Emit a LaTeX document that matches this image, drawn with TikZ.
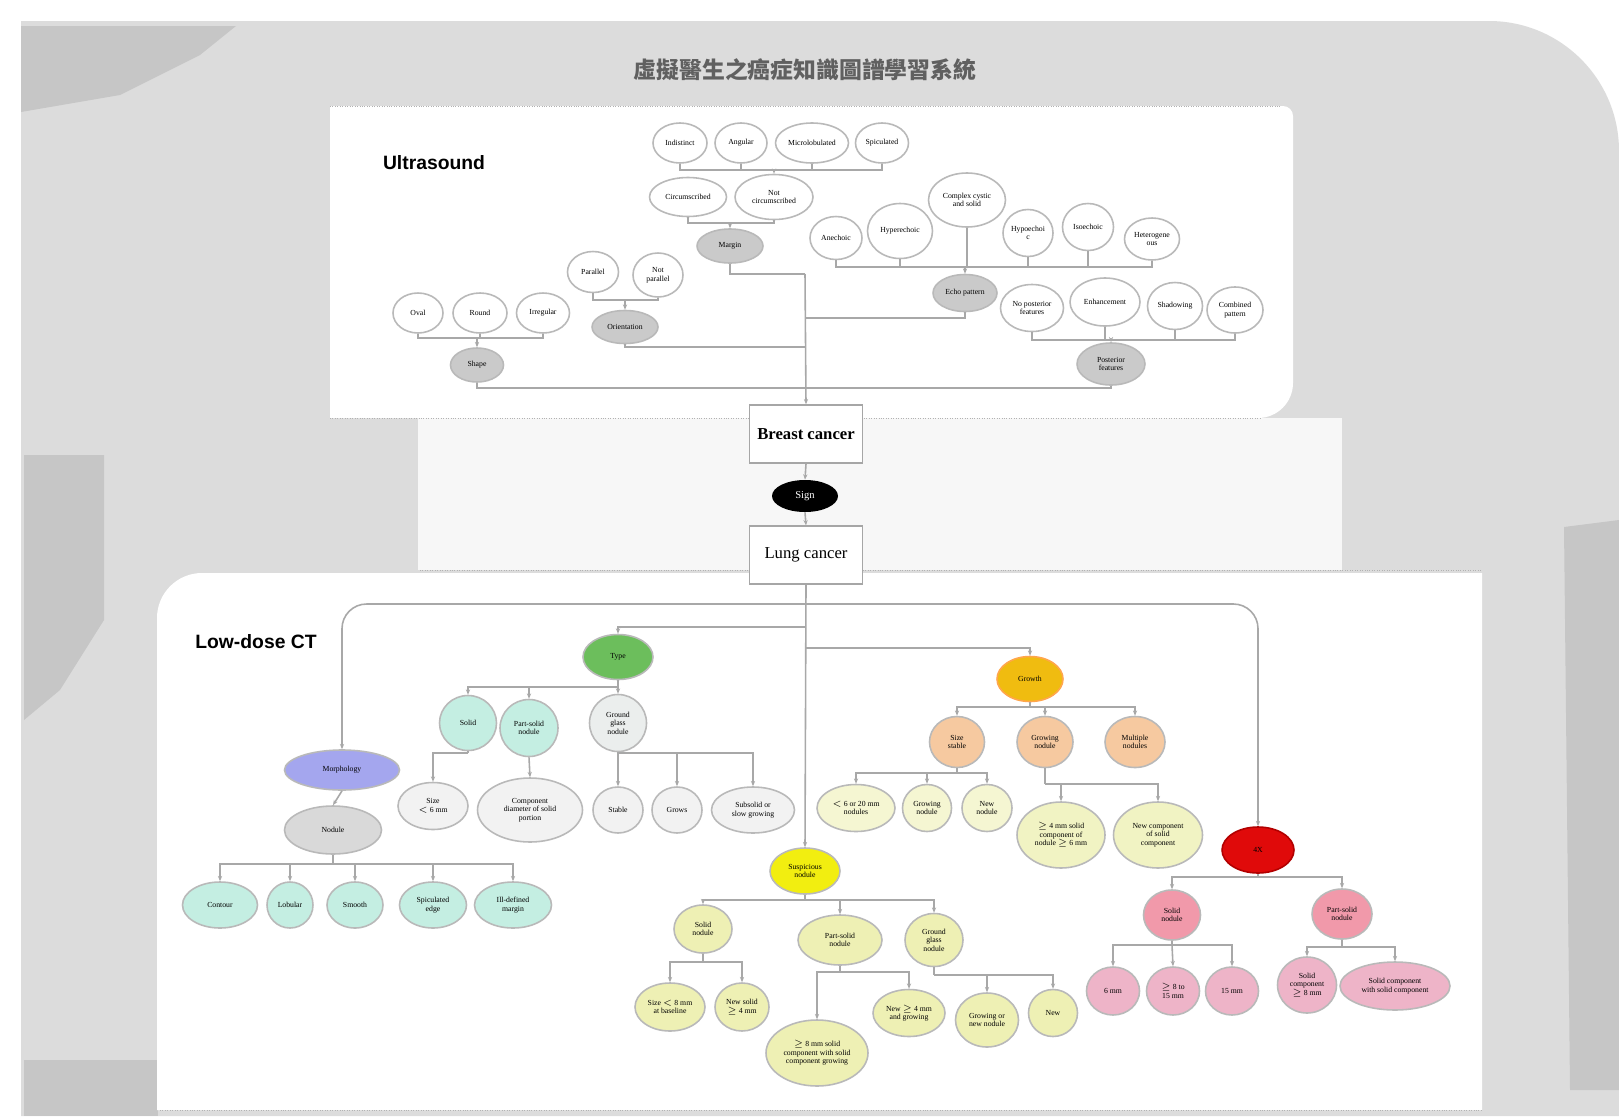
\documentclass[tikz,border=0pt]{standalone}
\usepackage{fontspec}
\setmainfont{Liberation Serif}
\newfontfamily\cjk{Noto Sans CJK TC}
\newfontfamily\hd{Liberation Sans}
\usetikzlibrary{shapes.geometric,arrows.meta}
\definecolor{bgGray}{HTML}{DCDCDC}
\definecolor{bgDark}{HTML}{C6C6C6}
\definecolor{hubGray}{HTML}{CACACA}
\definecolor{linkGray}{HTML}{A8A8A8}
\definecolor{mint}{HTML}{C4EEE2}
\definecolor{violet}{HTML}{A4A6EE}
\definecolor{leaf}{HTML}{6CBE5C}
\definecolor{gold}{HTML}{F0BC10}
\definecolor{peach}{HTML}{F6C9A0}
\definecolor{lemon}{HTML}{F2EE10}
\definecolor{cream}{HTML}{EEF0B4}
\definecolor{scarlet}{HTML}{E00A0A}
\definecolor{rose}{HTML}{EEB4C8}
\begin{document}
\begin{tikzpicture}[x=0.02cm,y=-0.02cm]
	\tikzset{bub/.style = {ellipse, draw=gray!55, line width=0.9pt, fill=white, inner sep=0pt, align=center, font=\fontsize{4.4}{4.9}\selectfont},
		hub/.style = {bub, fill=hubGray},
		wh/.style 2 args = {minimum width=#1*0.02cm, minimum height=#2*0.02cm},
		link/.style = {draw=linkGray, line width=0.9pt},
		arr/.style = {link, -{Stealth[length=3pt, width=2.4pt]}},
		box/.style = {draw=gray!70, line width=0.8pt, fill=white, wh={113}{58}, font=\fontsize{9.5}{10}\selectfont},
		panel/.style = {fill=white, draw=none}}

	\useasboundingbox (0,0) rectangle (1619,1116);

	% background
	\fill[white] (0,0) rectangle (1619,1116);
	\fill[bgGray] (21,21) [rounded corners=2.6cm] -- (1619,21) [sharp corners] -- (1619,1116) -- (21,1116) -- cycle;
	\fill[bgDark] (21,26) -- (236,26) -- (200,55) -- (120,95) -- (21,112) -- cycle;
	\fill[bgDark] (24,455) -- (104,455) -- (104,620) -- (60,690) -- (24,720) -- cycle;
	\fill[bgDark] (24,1060) rectangle (158,1116);
	\fill[bgDark] (1564,527) -- (1619,520) -- (1619,1090) -- (1570,1090) -- cycle;
	\fill[white!94!gray] (418,418) rectangle (1342,570);

	% panels
	\fill[panel] (330,106) [rounded corners=0.2cm] -- (1293,106) [rounded corners=0.7cm] -- (1293,418) [sharp corners] -- (330,418) -- cycle;
	\fill[panel] (157,1110) [rounded corners=0.9cm] -- (157,573) [sharp corners] -- (1482,573) -- (1482,1110) -- cycle;
	\draw[gray!60, densely dotted] (330,106) -- (1280,106);
	\draw[gray!60, densely dotted] (330,418) -- (1260,418);
	\draw[gray!60, densely dotted] (420,570) -- (1482,570);
	\draw[gray!60, densely dotted] (160,1110) -- (1482,1110);

	\node[font=\cjk\bfseries\fontsize{13}{13}\selectfont, text=gray!75!black] (title) at (805,70) {虛擬醫生之癌症知識圖譜學習系統};
	\node[font=\hd\bfseries\fontsize{11}{11}\selectfont] (us) at (434,163) {Ultrasound};
	\node[font=\hd\bfseries\fontsize{11}{11}\selectfont] (ct) at (256,642) {Low-dose CT};

	% ultrasound
	\node[bub, wh={54}{40}] (ind) at (680,143) {Indistinct};
	\node[bub, wh={52}{40}] (ang) at (741,143) {Angular};
	\node[bub, wh={73}{40}] (mic) at (812,143) {Microlobulated};
	\node[bub, wh={53}{40}] (spi) at (882,143) {Spiculated};
	\node[bub, wh={77}{39}] (cir) at (688,197) {Circumscribed};
	\node[bub, wh={78}{45}] (ncir) at (774,197) {Not\\circumscribed};
	\node[hub, wh={66}{34}] (mg) at (730,246) {Margin};

	\node[bub, wh={52}{43}] (ane) at (836,238) {Anechoic};
	\node[bub, wh={65}{55}] (hyper) at (900,231) {Hyperechoic};
	\node[bub, wh={77}{54}] (cplx) at (967,200) {Complex cystic\\and solid};
	\node[bub, wh={50}{47}] (hypo) at (1028,233) {Hypoechoi\\c};
	\node[bub, wh={51}{47}] (iso) at (1088,227) {Isoechoic};
	\node[bub, wh={55}{42}] (het) at (1152,239) {Heterogene\\ous};
	\node[hub, wh={64}{37}] (echo) at (965,293) {Echo pattern};

	\node[bub, wh={63}{47}] (nop) at (1032,308) {No posterior\\features};
	\node[bub, wh={70}{48}] (enh) at (1105,302) {Enhancement};
	\node[bub, wh={55}{47}] (sha) at (1175,306) {Shadowing};
	\node[bub, wh={56}{46}] (com) at (1235,310) {Combined\\pattern};
	\node[hub, wh={68}{42}] (post) at (1111,364) {Posterior\\features};

	\node[bub, wh={50}{40}] (oval) at (418,313) {Oval};
	\node[bub, wh={54}{40}] (round) at (480,313) {Round};
	\node[bub, wh={53}{40}] (irr) at (543,313) {Irregular};
	\node[hub, wh={53}{34}] (shape) at (477,365) {Shape};

	\node[bub, wh={51}{41}] (par) at (593,272) {Parallel};
	\node[bub, wh={50}{44}] (npar) at (658,275) {Not\\parallel};
	\node[hub, wh={66}{33}] (ori) at (625,327) {Orientation};

	\node[box, font=\bfseries\fontsize{9.5}{10}\selectfont] (brc) at (806,434) {Breast cancer};
	\node[ellipse, fill=black, text=white, inner sep=0pt, wh={66}{32}, font=\fontsize{6}{6}\selectfont] (sign) at (805,496) {Sign};
	\node[box] (lcc) at (806,555) {Lung cancer};

	\coordinate (bNc) at (774,170);
	\coordinate (bMg) at (730,223);
	\coordinate (bEc) at (965,267);
	\coordinate (bPo) at (1111,340);
	\coordinate (bSh) at (477,338);
	\coordinate (bOr) at (625,300);
	\coordinate (jM) at (805,274);
	\coordinate (jE) at (805,318);
	\coordinate (jO) at (805,347);
	\coordinate (jS) at (805,388);

	\draw[link] (ind.south) |- (bNc);
	\draw[link] (ang.south) |- (bNc);
	\draw[link] (mic.south) |- (bNc);
	\draw[link] (spi.south) |- (bNc);
	\draw[arr] (bNc) -- (ncir.north);
	\draw[link] (cir.south) |- (bMg);
	\draw[link] (ncir.south) |- (bMg);
	\draw[arr] (bMg) -- (mg.north);

	\draw[link] (ane.south) |- (bEc);
	\draw[link] (hyper.south) |- (bEc);
	\draw[link] (cplx.south) |- (bEc);
	\draw[link] (hypo.south) |- (bEc);
	\draw[link] (iso.south) |- (bEc);
	\draw[link] (het.south) |- (bEc);
	\draw[arr] (bEc) -- (echo.north);

	\draw[link] (nop.south) |- (bPo);
	\draw[link] (enh.south) |- (bPo);
	\draw[link] (sha.south) |- (bPo);
	\draw[link] (com.south) |- (bPo);
	\draw[arr] (bPo) -- (post.north);

	\draw[link] (oval.south) |- (bSh);
	\draw[link] (round.south) |- (bSh);
	\draw[link] (irr.south) |- (bSh);
	\draw[arr] (bSh) -- (shape.north);

	\draw[link] (par.south) |- (bOr);
	\draw[link] (npar.south) |- (bOr);
	\draw[arr] (bOr) -- (ori.north);

	\draw[link] (mg.south) |- (jM);
	\draw[link] (echo.south) |- (jE);
	\draw[link] (ori.south) |- (jO);
	\draw[link] (shape.south) |- (jS);
	\draw[link] (post.south) |- (jS);
	\draw[arr] (jM) -- (brc.north);

	\draw[arr] (brc.south) -- (sign.north);
	\draw[arr] (sign.south) -- (lcc.north);

	% low-dose CT
	\node[bub, fill=violet, wh={115}{40}] (mor) at (342,770) {Morphology};
	\node[hub, fill=gray!30, wh={97}{48}] (nod) at (333,830) {Nodule};
	\node[bub, fill=mint, wh={75}{46}] (c1) at (220,905) {Contour};
	\node[bub, fill=mint, wh={46}{46}] (c2) at (290,905) {Lobular};
	\node[bub, fill=mint, wh={56}{46}] (c3) at (355,905) {Smooth};
	\node[bub, fill=mint, wh={67}{46}] (c4) at (433,905) {Spiculated\\edge};
	\node[bub, fill=mint, wh={77}{46}] (c5) at (513,905) {Ill-defined\\margin};

	\node[bub, fill=leaf, wh={70}{45}] (grn) at (618,657) {Type};
	\node[bub, fill=mint, wh={57}{55}] (g1) at (468,723) {Solid};
	\node[bub, fill=mint, wh={58}{57}] (g2) at (529,728) {Part-solid\\nodule};
	\node[bub, fill=mint!40!gray!20, wh={57}{57}] (g3) at (618,723) {Ground\\glass\\nodule};
	\node[bub, fill=gray!10, wh={70}{47}] (g1a) at (433,806) {Size\\$<$ 6 mm};
	\node[bub, fill=gray!10, wh={105}{64}] (g2a) at (530,810) {Component\\diameter of solid\\portion};
	\node[bub, fill=gray!10, wh={50}{46}] (g3a) at (618,810) {Stable};
	\node[bub, fill=gray!10, wh={50}{46}] (g3b) at (677,810) {Grows};
	\node[bub, fill=gray!10, wh={83}{46}] (g3c) at (753,810) {Subsolid or\\slow growing};

	\node[bub, fill=gold, draw=orange!70, wh={66}{45}] (org) at (1030,679) {Growth};
	\node[bub, fill=peach, wh={55}{51}] (o1) at (957,742) {Size\\stable};
	\node[bub, fill=peach, wh={56}{51}] (o2) at (1045,742) {Growing\\nodule};
	\node[bub, fill=peach, wh={60}{51}] (o3) at (1135,742) {Multiple\\nodules};
	\node[bub, fill=cream!60, wh={78}{47}] (o1a) at (856,808) {$<$ 6 or 20 mm\\nodules};
	\node[bub, fill=cream!60, wh={49}{47}] (o1b) at (927,808) {Growing\\nodule};
	\node[bub, fill=cream!60, wh={50}{47}] (o1c) at (987,808) {New\\nodule};
	\node[bub, fill=cream!80, wh={88}{66}] (o2a) at (1061,835) {$\geq$ 4 mm solid\\component of\\nodule $\geq$ 6 mm};
	\node[bub, fill=cream!80, wh={89}{66}] (o2b) at (1158,835) {New component\\of solid\\component};

	\node[bub, fill=lemon, wh={70}{46}] (sol) at (805,871) {Suspicious\\nodule};
	\node[bub, fill=cream, wh={58}{48}] (y1) at (703,929) {Solid\\nodule};
	\node[bub, fill=cream, wh={84}{50}] (y2) at (840,940) {Part-solid\\nodule};
	\node[bub, fill=cream, wh={58}{53}] (y3) at (934,940) {Ground\\glass\\nodule};
	\node[bub, fill=cream, wh={70}{48}] (y1a) at (670,1007) {Size $<$ 8 mm\\at baseline};
	\node[bub, fill=cream, wh={54}{48}] (y1b) at (742,1007) {New solid\\$\geq$ 4 mm};
	\node[bub, fill=cream, wh={102}{66}] (y2a) at (817,1053) {$\geq$ 8 mm solid\\component with solid\\component growing};
	\node[bub, fill=cream, wh={72}{47}] (y2b) at (909,1013) {New $\geq$ 4 mm\\and growing};
	\node[bub, fill=cream, wh={63}{54}] (y3a) at (987,1020) {Growing or\\new nodule};
	\node[bub, fill=cream, wh={49}{47}] (y3b) at (1053,1013) {New};

	\node[bub, fill=scarlet, draw=red!70!black, wh={72}{46}] (red) at (1258,850) {4X};
	\node[bub, fill=rose!85!red, wh={57}{50}] (r1) at (1172,915) {Solid\\nodule};
	\node[bub, fill=rose!85!red, wh={60}{50}] (r2) at (1342,914) {Part-solid\\nodule};
	\node[bub, fill=rose, wh={53}{48}] (r1a) at (1113,991) {6 mm};
	\node[bub, fill=rose, wh={53}{48}] (r1b) at (1173,991) {$\geq$ 8 to\\15 mm};
	\node[bub, fill=rose, wh={53}{48}] (r1c) at (1232,991) {15 mm};
	\node[bub, fill=rose, wh={59}{56}] (r2a) at (1307,985) {Solid\\component\\$\geq$ 8 mm};
	\node[bub, fill=rose, wh={110}{48}] (r2b) at (1395,986) {Solid component\\with solid component};

	\coordinate (jL) at (805,604);
	\coordinate (jG) at (805,627);
	\coordinate (jR) at (805,648);
	\coordinate (bNo) at (333,864);
	\coordinate (bGr) at (618,687);
	\coordinate (bG1) at (468,753);
	\coordinate (bG3) at (618,753);
	\coordinate (bOg) at (1030,707);
	\coordinate (bO1) at (957,773);
	\coordinate (bO2) at (1045,784);
	\coordinate (bSo) at (805,900);
	\coordinate (bY1) at (703,962);
	\coordinate (bY2) at (840,972);
	\coordinate (bY3) at (934,975);
	\coordinate (bRd) at (1258,877);
	\coordinate (bR1) at (1172,945);
	\coordinate (bR2) at (1342,947);

	\draw[arr] (lcc.south) -- (sol.north);
	\draw[arr, rounded corners=14] (jL) -| (mor.north);
	\draw[arr, rounded corners=14] (jL) -| (red.north);
	\draw[arr] (jG) -| (grn.north);
	\draw[arr] (jR) -| (org.north);

	\draw[arr] (mor.south) -- (nod.north);
	\draw[link] (nod.south) -- (bNo);
	\draw[arr] (bNo) -| (c1.north);
	\draw[arr] (bNo) -| (c2.north);
	\draw[arr] (bNo) -| (c3.north);
	\draw[arr] (bNo) -| (c4.north);
	\draw[arr] (bNo) -| (c5.north);

	\draw[link] (grn.south) -- (bGr);
	\draw[arr] (bGr) -| (g1.north);
	\draw[arr] (bGr) -| (g2.north);
	\draw[arr] (bGr) -- (g3.north);
	\draw[link] (g1.south) -- (bG1);
	\draw[arr] (bG1) -| (g1a.north);
	\draw[arr] (g2.south) -- (g2a.north);
	\draw[link] (g3.south) -- (bG3);
	\draw[arr] (bG3) -- (g3a.north);
	\draw[arr] (bG3) -| (g3b.north);
	\draw[arr] (bG3) -| (g3c.north);

	\draw[link] (org.south) -- (bOg);
	\draw[arr] (bOg) -| (o1.north);
	\draw[arr] (bOg) -| (o2.north);
	\draw[arr] (bOg) -| (o3.north);
	\draw[link] (o1.south) -- (bO1);
	\draw[arr] (bO1) -| (o1a.north);
	\draw[arr] (bO1) -| (o1b.north);
	\draw[arr] (bO1) -| (o1c.north);
	\draw[link] (o2.south) -- (bO2);
	\draw[arr] (bO2) -| (o2a.north);
	\draw[arr] (bO2) -| (o2b.north);

	\draw[link] (sol.south) -- (bSo);
	\draw[arr] (bSo) -| (y1.north);
	\draw[arr] (bSo) -| (y2.north);
	\draw[arr] (bSo) -| (y3.north);
	\draw[link] (y1.south) -- (bY1);
	\draw[arr] (bY1) -| (y1a.north);
	\draw[arr] (bY1) -| (y1b.north);
	\draw[link] (y2.south) -- (bY2);
	\draw[arr] (bY2) -| (y2a.north);
	\draw[arr] (bY2) -| (y2b.north);
	\draw[link] (y3.south) -- (bY3);
	\draw[arr] (bY3) -| (y3a.north);
	\draw[arr] (bY3) -| (y3b.north);

	\draw[link] (red.south) -- (bRd);
	\draw[arr] (bRd) -| (r1.north);
	\draw[arr] (bRd) -| (r2.north);
	\draw[link] (r1.south) -- (bR1);
	\draw[arr] (bR1) -| (r1a.north);
	\draw[arr] (bR1) -- (r1b.north);
	\draw[arr] (bR1) -| (r1c.north);
	\draw[link] (r2.south) -- (bR2);
	\draw[arr] (bR2) -| (r2a.north);
	\draw[arr] (bR2) -| (r2b.north);

\end{tikzpicture}
\end{document}
